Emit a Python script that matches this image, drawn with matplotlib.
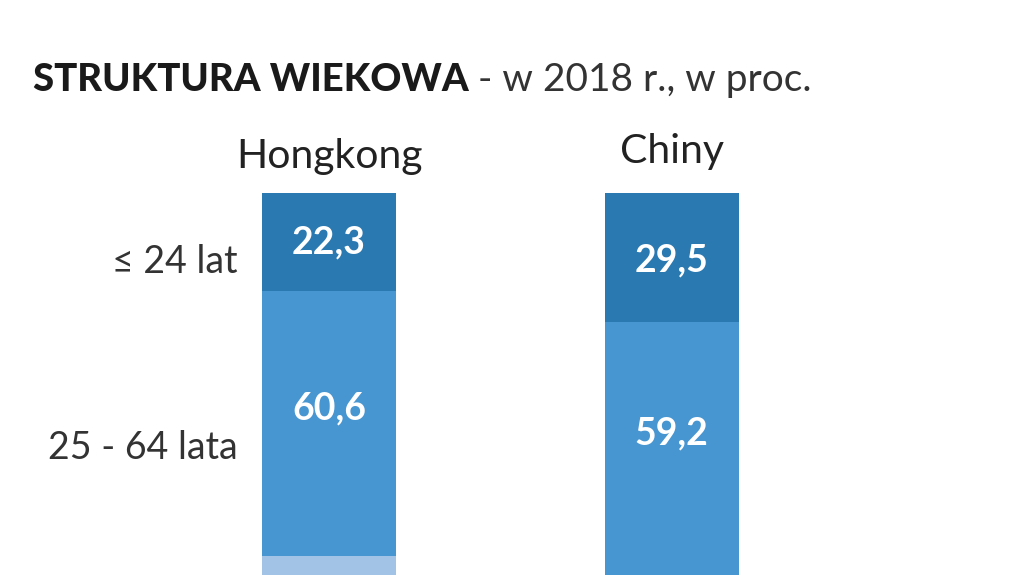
import matplotlib.pyplot as plt
import numpy as np

# dane - struktura wiekowa 2018, w proc.
countries = ['Hongkong', 'Chiny']
age_groups = ['≤ 24 lat', '25 - 64 lata']
young = [22.3, 29.5]
middle = [60.6, 59.2]
old = [17.1, 11.3]
value_labels = [['22,3', '29,5'], ['60,6', '59,2']]

colors = ['#2b79b1', '#4896d1', '#a2c3e6']
plt.rcParams['font.family'] = ['Lato', 'DejaVu Sans']

W, H = 1024, 575
fig = plt.figure(figsize=(W / 100, H / 100), dpi=100)

# axes: 0% at y=193 px, 100% at y=631 px (below the picture edge)
top_px, px_per = 193, 4.38
bot_px = top_px + 100 * px_per
ax = fig.add_axes([0, (H - bot_px) / H, 1, (bot_px - top_px) / H])
ax.set_ylim(100, 0)
c0, step = 329, 342.5
ax.set_xlim(-c0 / step, (W - c0) / step)
ax.axis('off')

x = np.arange(len(countries))
series = [young, middle, old]
bottom = np.zeros(len(countries))
for i, s in enumerate(series):
    ax.bar(x, s, bottom=bottom, width=134 / step, color=colors[i], linewidth=0)
    bottom += np.array(s)

# value labels inside bars (only the visible ones)
lab_y = [[11.4, 15.5], [49.2, 54.8]]
for i in range(2):
    for j in range(len(countries)):
        ax.text(x[j], lab_y[i][j], value_labels[i][j], ha='center', va='center',
                color='white', fontsize=27, fontweight='bold')

# age group labels on the left
grp_y = [15.7, 58.2]
for g, yy in zip(age_groups, grp_y):
    ax.text((238 - c0) / step, yy, g, ha='right', va='center',
            fontsize=27, color='#333333')

# country names
name_y = [-4.2, -5.3]
for j, c in enumerate(countries):
    ax.text(x[j], name_y[j], c, ha='center', va='bottom',
            fontsize=29.5, color='#222222')

# title
t1 = fig.text(33 / W, 1 - 80 / H, 'STRUKTURA WIEKOWA', fontsize=27.5, fontweight='black',
              color='#1a1a1a', va='center', ha='left')
fig.canvas.draw()
bb = t1.get_window_extent()
fig.text(bb.x1 / W + 9 / W, 1 - 80 / H, '- w 2018 r., w proc.', fontsize=28,
         color='#333333', va='center', ha='left')

plt.savefig('out.png', dpi=100)
